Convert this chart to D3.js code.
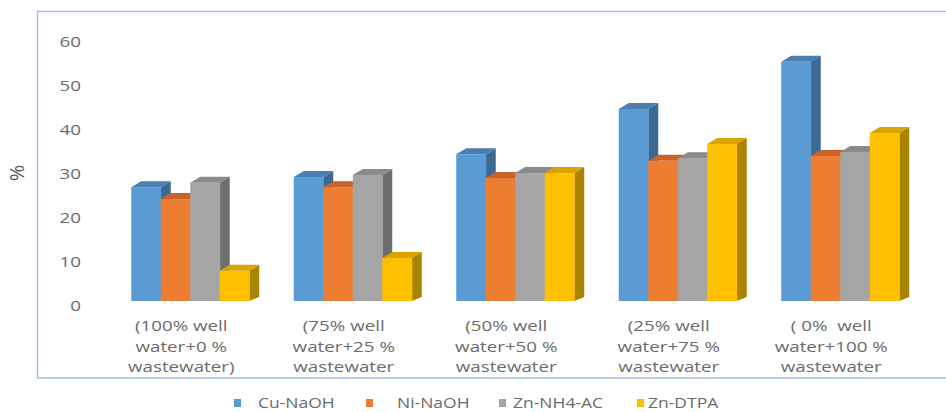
<!DOCTYPE html>
<meta charset="utf-8">
<style>
  body { margin: 0; background: #fff; }
  svg { display: block; }
  text { font-family: "Open Sans", sans-serif; fill: #6b6b6b; white-space: pre; }
</style>
<body>
<script src="https://d3js.org/d3.v7.min.js"></script>
<script>

// data
var categories = [
  ["(100% well", "water+0 %", "wastewater)"],
  ["(75% well", "water+25 %", "wastewater"],
  ["(50% well", "water+50 %", "wastewater"],
  ["(25% well", "water+75 %", "wastewater"],
  ["( 0%  well", "water+100 %", "wastewater"]
];
var seriesNames = ["Cu-NaOH", "Ni-NaOH", "Zn-NH4-AC", "Zn-DTPA"];
var cuNaOH  = [27.0, 29.3, 34.5, 44.8, 55.5];
var niNaOH  = [24.3, 27.0, 29.1, 33.0, 34.1];
var znNH4AC = [28.0, 29.8, 30.2, 33.6, 35.0];
var znDTPA  = [ 8.0, 10.9, 30.2, 36.8, 39.3];
var yTicks = [0, 10, 20, 30, 40, 50, 60];

var series = [cuNaOH, niNaOH, znNH4AC, znDTPA];

// colours: front, top, side
var colors = [
  {front: "#5b9bd5", top: "#4a7fb0", side: "#3d6a93"},
  {front: "#ed7d31", top: "#c8642a", side: "#ad5b22"},
  {front: "#a5a5a5", top: "#8a8a8a", side: "#6e6e6e"},
  {front: "#ffc000", top: "#d9a300", side: "#a88400"}
];

var W = 946, H = 412;
var depthX = 10, depthY = 6, floorLift = 5;
var stretch = 1.25;

var svg = d3.select("body").append("svg")
    .attr("width", W)
    .attr("height", H);

// chart frame
svg.append("rect")
    .attr("x", 37.5)
    .attr("y", 11.5)
    .attr("width", 960)
    .attr("height", 366.5)
    .attr("fill", "none")
    .attr("stroke", "#9dc0e3")
    .attr("stroke-width", 1.5);

var x = d3.scaleBand()
    .domain(d3.range(categories.length))
    .range([100, 912.5]);

var groupW = 118;
var x1 = d3.scaleBand()
    .domain(d3.range(seriesNames.length))
    .range([0, groupW]);

var y = d3.scaleLinear()
    .domain([0, 60])
    .range([306, 42]);

var floorY = y(0) - floorLift;

// y axis labels only
var gY = svg.append("g")
    .attr("transform", "translate(81,0)")
    .call(d3.axisLeft(y).tickValues(yTicks).tickSize(0).tickPadding(0));
gY.select(".domain").remove();
gY.selectAll("text")
    .style("font-family", "'Open Sans', sans-serif")
    .style("font-size", "15px")
    .attr("fill", "#6b6b6b")
    .attr("transform", "scale(" + stretch + ",1)")
    .attr("x", 0);

svg.append("text")
    .attr("transform", "translate(24,173) rotate(-90)")
    .attr("text-anchor", "middle")
    .style("font-size", "20px")
    .style("fill", "#595959")
    .text("%");

// bars (painter's order, left to right)
categories.forEach(function(cat, i) {
  var gx = x(i) + x.bandwidth() / 2 - groupW / 2 + 9;
  var g = svg.append("g").attr("transform", "translate(" + gx + ",0)");
  series.forEach(function(vals, s) {
    var v = vals[i];
    var bx = x1(s), bw = x1.bandwidth();
    var top = y(v);
    var c = colors[s];
    // side
    g.append("path")
        .attr("d", "M" + (bx + bw) + "," + top +
                   "L" + (bx + bw + depthX) + "," + (top - depthY) +
                   "L" + (bx + bw + depthX) + "," + (floorY - depthY + 2) +
                   "L" + (bx + bw) + "," + floorY + "Z")
        .attr("fill", c.side);
    // top
    g.append("path")
        .attr("d", "M" + bx + "," + top +
                   "L" + (bx + depthX) + "," + (top - depthY) +
                   "L" + (bx + bw + depthX) + "," + (top - depthY) +
                   "L" + (bx + bw) + "," + top + "Z")
        .attr("fill", c.top);
    // front
    g.append("rect")
        .attr("x", bx)
        .attr("y", top)
        .attr("width", bw + 0.5)
        .attr("height", floorY - top)
        .attr("fill", c.front);
  });
});

// category labels
var lineY = [326, 346.5, 367];
categories.forEach(function(lines, i) {
  var cx = x(i) + x.bandwidth() / 2;
  lines.forEach(function(t, k) {
    svg.append("text")
        .attr("transform", "translate(" + cx + "," + lineY[k] + ") scale(" + stretch + ",1)")
        .attr("text-anchor", "middle")
        .attr("dy", "0.35em")
        .style("font-size", "15px")
        .text(t);
  });
});

// legend
var legendX = [234, 366, 499, 637];
var legendTextX = [258, 397, 513, 648];
var legendY = 403;
seriesNames.forEach(function(name, s) {
  svg.append("rect")
      .attr("x", legendX[s])
      .attr("y", legendY - 4)
      .attr("width", 7)
      .attr("height", 8)
      .attr("fill", colors[s].front);
  svg.append("text")
      .attr("transform", "translate(" + legendTextX[s] + "," + legendY + ") scale(" + stretch + ",1)")
      .attr("dy", "0.35em")
      .style("font-size", "14px")
      .text(name);
});

</script>
</body>
